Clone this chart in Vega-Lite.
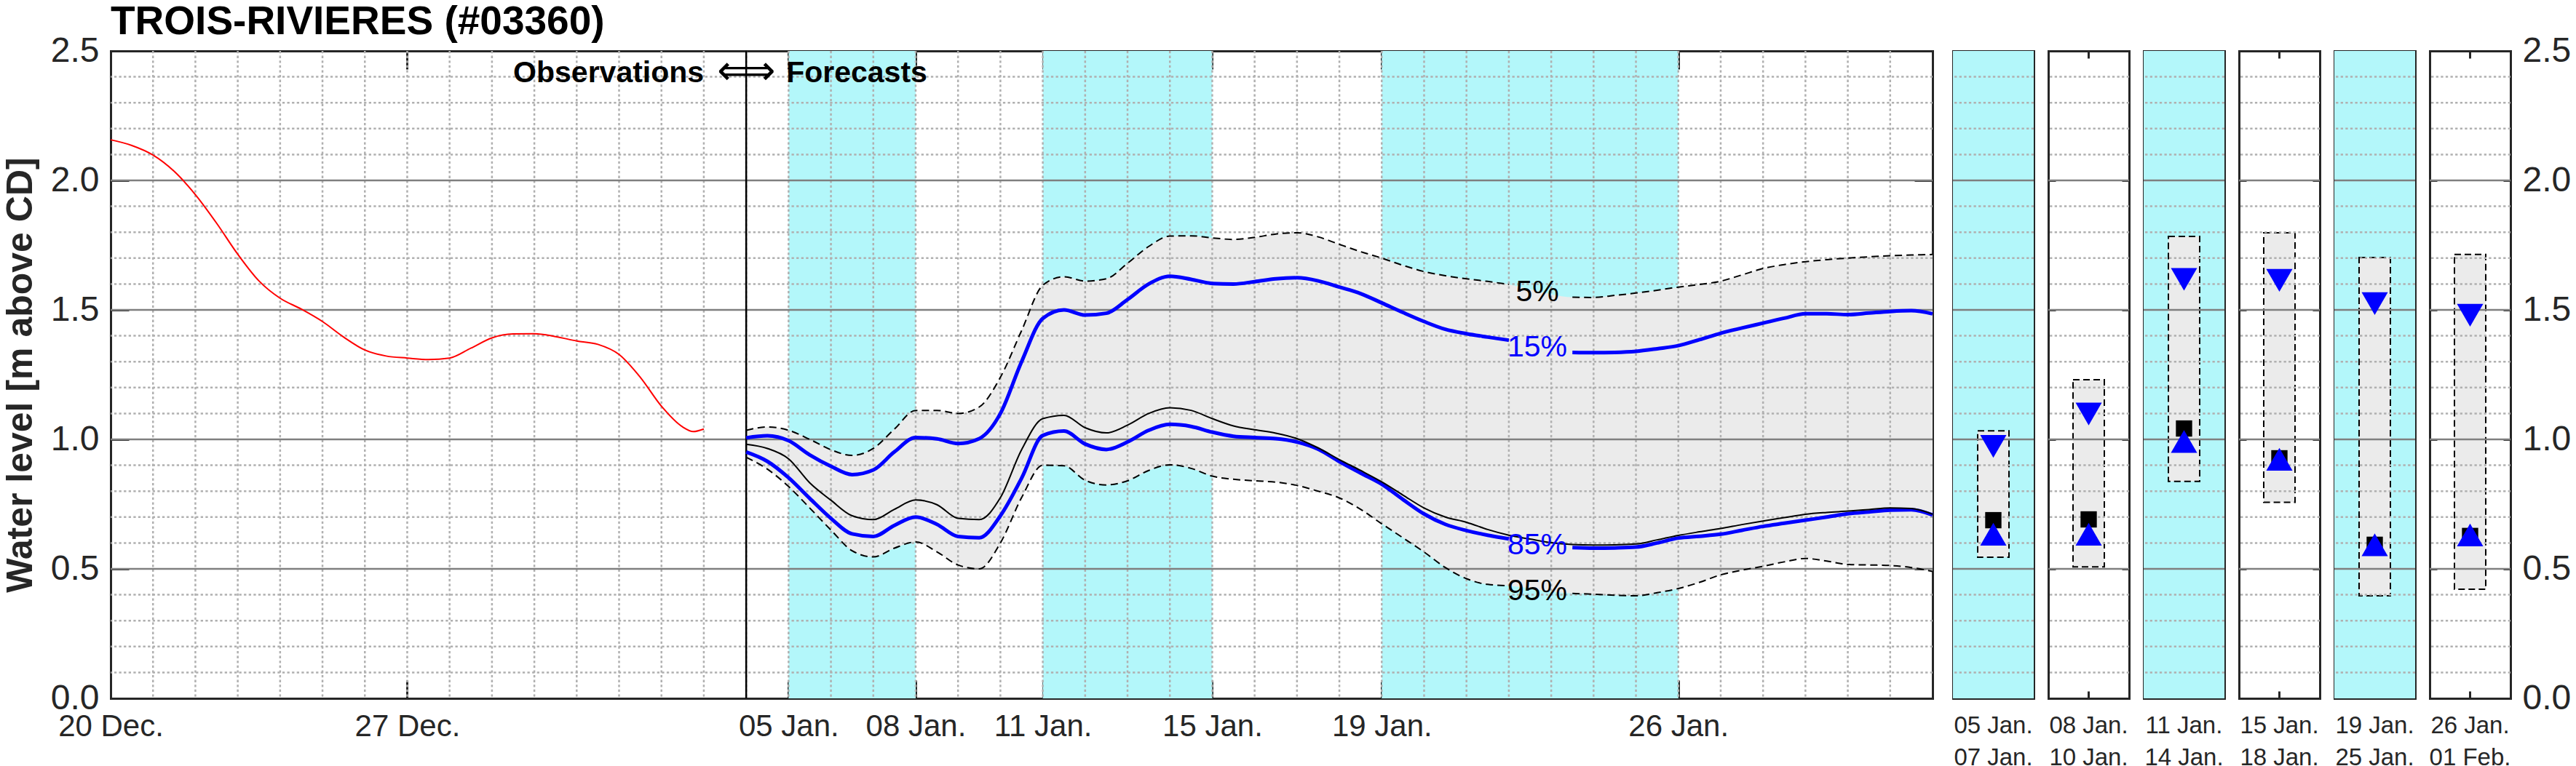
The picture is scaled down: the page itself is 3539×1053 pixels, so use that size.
{
  "$schema": "https://vega.github.io/schema/vega-lite/v6.json",
  "padding": {"left": 3, "top": 3, "right": 2, "bottom": 0},
  "background": "white",
  "title": {"text": "TROIS-RIVIERES (#03360)", "anchor": "start", "frame": "group", "fontSize": 55, "fontWeight": "bold", "color": "black", "offset": -56, "baseline": "alphabetic"},
  "datasets": {
    "obs": [
      {"t": "2023-12-20T00:00", "level": 2.157}, {"t": "2023-12-20T12:00", "level": 2.135},
      {"t": "2023-12-21T00:00", "level": 2.098}, {"t": "2023-12-21T12:00", "level": 2.035},
      {"t": "2023-12-22T00:00", "level": 1.945}, {"t": "2023-12-22T12:00", "level": 1.835},
      {"t": "2023-12-23T00:00", "level": 1.715}, {"t": "2023-12-23T12:00", "level": 1.612},
      {"t": "2023-12-24T00:00", "level": 1.545}, {"t": "2023-12-24T12:00", "level": 1.503},
      {"t": "2023-12-25T00:00", "level": 1.455}, {"t": "2023-12-25T12:00", "level": 1.395},
      {"t": "2023-12-26T00:00", "level": 1.345}, {"t": "2023-12-26T12:00", "level": 1.322},
      {"t": "2023-12-27T00:00", "level": 1.314}, {"t": "2023-12-27T12:00", "level": 1.308},
      {"t": "2023-12-28T00:00", "level": 1.314}, {"t": "2023-12-28T12:00", "level": 1.352},
      {"t": "2023-12-29T00:00", "level": 1.392}, {"t": "2023-12-29T12:00", "level": 1.407},
      {"t": "2023-12-30T00:00", "level": 1.408}, {"t": "2023-12-30T12:00", "level": 1.397},
      {"t": "2023-12-31T00:00", "level": 1.380}, {"t": "2023-12-31T12:00", "level": 1.367},
      {"t": "2024-01-01T00:00", "level": 1.328}, {"t": "2024-01-01T12:00", "level": 1.240},
      {"t": "2024-01-02T00:00", "level": 1.128}, {"t": "2024-01-02T12:00", "level": 1.048},
      {"t": "2024-01-02T18:00", "level": 1.030}, {"t": "2024-01-03T00:00", "level": 1.040}
    ],
    "fc": [
      {"t": "2024-01-04T00:00", "5%": 1.035, "15%": 1.006, "50%": 0.981, "85%": 0.951, "95%": 0.931},
      {"t": "2024-01-04T12:00", "5%": 1.048, "15%": 1.014, "50%": 0.965, "85%": 0.915, "95%": 0.885},
      {"t": "2024-01-05T00:00", "5%": 1.035, "15%": 0.995, "50%": 0.925, "85%": 0.852, "95%": 0.818},
      {"t": "2024-01-05T12:00", "5%": 1.000, "15%": 0.940, "50%": 0.832, "85%": 0.772, "95%": 0.735},
      {"t": "2024-01-06T00:00", "5%": 0.960, "15%": 0.896, "50%": 0.765, "85%": 0.695, "95%": 0.650},
      {"t": "2024-01-06T12:00", "5%": 0.938, "15%": 0.864, "50%": 0.705, "85%": 0.635, "95%": 0.570},
      {"t": "2024-01-07T00:00", "5%": 0.965, "15%": 0.882, "50%": 0.690, "85%": 0.625, "95%": 0.546},
      {"t": "2024-01-07T12:00", "5%": 1.040, "15%": 0.952, "50%": 0.730, "85%": 0.668, "95%": 0.580},
      {"t": "2024-01-08T00:00", "5%": 1.112, "15%": 1.007, "50%": 0.766, "85%": 0.700, "95%": 0.604},
      {"t": "2024-01-08T12:00", "5%": 1.112, "15%": 1.002, "50%": 0.748, "85%": 0.672, "95%": 0.566},
      {"t": "2024-01-09T00:00", "5%": 1.100, "15%": 0.984, "50%": 0.695, "85%": 0.625, "95%": 0.515},
      {"t": "2024-01-09T12:00", "5%": 1.125, "15%": 1.003, "50%": 0.690, "85%": 0.620, "95%": 0.500},
      {"t": "2024-01-10T00:00", "5%": 1.240, "15%": 1.100, "50%": 0.775, "85%": 0.705, "95%": 0.600},
      {"t": "2024-01-10T12:00", "5%": 1.420, "15%": 1.300, "50%": 0.960, "85%": 0.850, "95%": 0.775},
      {"t": "2024-01-11T00:00", "5%": 1.595, "15%": 1.467, "50%": 1.080, "85%": 1.015, "95%": 0.900},
      {"t": "2024-01-11T12:00", "5%": 1.628, "15%": 1.500, "50%": 1.093, "85%": 1.032, "95%": 0.898},
      {"t": "2024-01-12T00:00", "5%": 1.611, "15%": 1.480, "50%": 1.045, "85%": 0.982, "95%": 0.842},
      {"t": "2024-01-12T12:00", "5%": 1.620, "15%": 1.487, "50%": 1.025, "85%": 0.961, "95%": 0.824},
      {"t": "2024-01-13T00:00", "5%": 1.680, "15%": 1.540, "50%": 1.055, "85%": 0.990, "95%": 0.840},
      {"t": "2024-01-13T12:00", "5%": 1.745, "15%": 1.600, "50%": 1.100, "85%": 1.035, "95%": 0.880},
      {"t": "2024-01-14T00:00", "5%": 1.785, "15%": 1.630, "50%": 1.122, "85%": 1.058, "95%": 0.902},
      {"t": "2024-01-14T12:00", "5%": 1.786, "15%": 1.618, "50%": 1.112, "85%": 1.050, "95%": 0.888},
      {"t": "2024-01-15T00:00", "5%": 1.778, "15%": 1.602, "50%": 1.080, "85%": 1.028, "95%": 0.858},
      {"t": "2024-01-15T12:00", "5%": 1.772, "15%": 1.600, "50%": 1.052, "85%": 1.012, "95%": 0.846},
      {"t": "2024-01-16T00:00", "5%": 1.780, "15%": 1.609, "50%": 1.037, "85%": 1.007, "95%": 0.840},
      {"t": "2024-01-16T12:00", "5%": 1.793, "15%": 1.620, "50%": 1.024, "85%": 1.003, "95%": 0.835},
      {"t": "2024-01-17T00:00", "5%": 1.798, "15%": 1.624, "50%": 1.003, "85%": 0.990, "95%": 0.822},
      {"t": "2024-01-17T12:00", "5%": 1.782, "15%": 1.612, "50%": 0.967, "85%": 0.962, "95%": 0.800},
      {"t": "2024-01-18T00:00", "5%": 1.753, "15%": 1.588, "50%": 0.922, "85%": 0.914, "95%": 0.774},
      {"t": "2024-01-18T12:00", "5%": 1.725, "15%": 1.563, "50%": 0.880, "85%": 0.870, "95%": 0.730},
      {"t": "2024-01-19T00:00", "5%": 1.700, "15%": 1.527, "50%": 0.836, "85%": 0.827, "95%": 0.674},
      {"t": "2024-01-19T12:00", "5%": 1.672, "15%": 1.490, "50%": 0.785, "85%": 0.768, "95%": 0.620},
      {"t": "2024-01-20T00:00", "5%": 1.648, "15%": 1.455, "50%": 0.735, "85%": 0.712, "95%": 0.565},
      {"t": "2024-01-20T12:00", "5%": 1.632, "15%": 1.425, "50%": 0.700, "85%": 0.672, "95%": 0.505},
      {"t": "2024-01-21T00:00", "5%": 1.620, "15%": 1.408, "50%": 0.680, "85%": 0.648, "95%": 0.462},
      {"t": "2024-01-21T12:00", "5%": 1.610, "15%": 1.395, "50%": 0.652, "85%": 0.630, "95%": 0.440},
      {"t": "2024-01-22T00:00", "5%": 1.598, "15%": 1.383, "50%": 0.630, "85%": 0.616, "95%": 0.435},
      {"t": "2024-01-22T12:00", "5%": 1.580, "15%": 1.365, "50%": 0.615, "85%": 0.600, "95%": 0.425},
      {"t": "2024-01-23T00:00", "5%": 1.560, "15%": 1.345, "50%": 0.601, "85%": 0.588, "95%": 0.412},
      {"t": "2024-01-23T12:00", "5%": 1.549, "15%": 1.336, "50%": 0.594, "85%": 0.582, "95%": 0.405},
      {"t": "2024-01-24T00:00", "5%": 1.548, "15%": 1.335, "50%": 0.592, "85%": 0.580, "95%": 0.402},
      {"t": "2024-01-24T12:00", "5%": 1.556, "15%": 1.336, "50%": 0.593, "85%": 0.581, "95%": 0.398},
      {"t": "2024-01-25T00:00", "5%": 1.565, "15%": 1.340, "50%": 0.596, "85%": 0.584, "95%": 0.396},
      {"t": "2024-01-25T12:00", "5%": 1.576, "15%": 1.350, "50%": 0.612, "85%": 0.600, "95%": 0.408},
      {"t": "2024-01-26T00:00", "5%": 1.588, "15%": 1.362, "50%": 0.629, "85%": 0.619, "95%": 0.424},
      {"t": "2024-01-26T12:00", "5%": 1.598, "15%": 1.385, "50%": 0.643, "85%": 0.626, "95%": 0.448},
      {"t": "2024-01-27T00:00", "5%": 1.611, "15%": 1.410, "50%": 0.656, "85%": 0.634, "95%": 0.477},
      {"t": "2024-01-27T12:00", "5%": 1.635, "15%": 1.430, "50%": 0.671, "85%": 0.649, "95%": 0.495},
      {"t": "2024-01-28T00:00", "5%": 1.660, "15%": 1.449, "50%": 0.685, "85%": 0.664, "95%": 0.510},
      {"t": "2024-01-28T12:00", "5%": 1.675, "15%": 1.468, "50%": 0.698, "85%": 0.676, "95%": 0.527},
      {"t": "2024-01-29T00:00", "5%": 1.686, "15%": 1.485, "50%": 0.711, "85%": 0.688, "95%": 0.540},
      {"t": "2024-01-29T12:00", "5%": 1.694, "15%": 1.485, "50%": 0.718, "85%": 0.700, "95%": 0.530},
      {"t": "2024-01-30T00:00", "5%": 1.700, "15%": 1.482, "50%": 0.723, "85%": 0.713, "95%": 0.517},
      {"t": "2024-01-30T12:00", "5%": 1.705, "15%": 1.488, "50%": 0.729, "85%": 0.720, "95%": 0.515},
      {"t": "2024-01-31T00:00", "5%": 1.709, "15%": 1.494, "50%": 0.735, "85%": 0.727, "95%": 0.513},
      {"t": "2024-01-31T12:00", "5%": 1.712, "15%": 1.497, "50%": 0.733, "85%": 0.728, "95%": 0.505},
      {"t": "2024-02-01T00:00", "5%": 1.714, "15%": 1.485, "50%": 0.711, "85%": 0.708, "95%": 0.490}
    ],
    "periods": [
      {"period": "05 Jan. - 07 Jan.", "start": "2024-01-05T00:00", "end": "2024-01-08T00:00", "highlight": true, "5%": 1.033, "15%": 0.973, "50%": 0.688, "85%": 0.634, "95%": 0.545},
      {"period": "08 Jan. - 10 Jan.", "start": "2024-01-08T00:00", "end": "2024-01-11T00:00", "highlight": false, "5%": 1.230, "15%": 1.098, "50%": 0.691, "85%": 0.634, "95%": 0.508},
      {"period": "11 Jan. - 14 Jan.", "start": "2024-01-11T00:00", "end": "2024-01-15T00:00", "highlight": true, "5%": 1.784, "15%": 1.618, "50%": 1.042, "85%": 0.992, "95%": 0.838},
      {"period": "15 Jan. - 18 Jan.", "start": "2024-01-15T00:00", "end": "2024-01-19T00:00", "highlight": false, "5%": 1.798, "15%": 1.614, "50%": 0.927, "85%": 0.923, "95%": 0.757},
      {"period": "19 Jan. - 25 Jan.", "start": "2024-01-19T00:00", "end": "2024-01-26T00:00", "highlight": true, "5%": 1.702, "15%": 1.524, "50%": 0.593, "85%": 0.593, "95%": 0.396},
      {"period": "26 Jan. - 01 Feb.", "start": "2024-01-26T00:00", "end": "2024-02-01T00:00", "highlight": false, "5%": 1.714, "15%": 1.479, "50%": 0.627, "85%": 0.631, "95%": 0.421}
    ],
    "days": [
      {"t": "2023-12-21T00:00"}, {"t": "2023-12-22T00:00"}, {"t": "2023-12-23T00:00"}, {"t": "2023-12-24T00:00"},
      {"t": "2023-12-25T00:00"}, {"t": "2023-12-26T00:00"}, {"t": "2023-12-27T00:00"}, {"t": "2023-12-28T00:00"},
      {"t": "2023-12-29T00:00"}, {"t": "2023-12-30T00:00"}, {"t": "2023-12-31T00:00"}, {"t": "2024-01-01T00:00"},
      {"t": "2024-01-02T00:00"}, {"t": "2024-01-03T00:00"}, {"t": "2024-01-04T00:00"}, {"t": "2024-01-05T00:00"},
      {"t": "2024-01-06T00:00"}, {"t": "2024-01-07T00:00"}, {"t": "2024-01-08T00:00"}, {"t": "2024-01-09T00:00"},
      {"t": "2024-01-10T00:00"}, {"t": "2024-01-11T00:00"}, {"t": "2024-01-12T00:00"}, {"t": "2024-01-13T00:00"},
      {"t": "2024-01-14T00:00"}, {"t": "2024-01-15T00:00"}, {"t": "2024-01-16T00:00"}, {"t": "2024-01-17T00:00"},
      {"t": "2024-01-18T00:00"}, {"t": "2024-01-19T00:00"}, {"t": "2024-01-20T00:00"}, {"t": "2024-01-21T00:00"},
      {"t": "2024-01-22T00:00"}, {"t": "2024-01-23T00:00"}, {"t": "2024-01-24T00:00"}, {"t": "2024-01-25T00:00"},
      {"t": "2024-01-26T00:00"}, {"t": "2024-01-27T00:00"}, {"t": "2024-01-28T00:00"}, {"t": "2024-01-29T00:00"},
      {"t": "2024-01-30T00:00"}, {"t": "2024-01-31T00:00"}
    ],
    "grid": [
      {"v": 0.1, "kind": "minor"}, {"v": 0.2, "kind": "minor"}, {"v": 0.3, "kind": "minor"}, {"v": 0.4, "kind": "minor"},
      {"v": 0.5, "kind": "major"}, {"v": 0.6, "kind": "minor"}, {"v": 0.7, "kind": "minor"}, {"v": 0.8, "kind": "minor"},
      {"v": 0.9, "kind": "minor"}, {"v": 1.0, "kind": "major"}, {"v": 1.1, "kind": "minor"}, {"v": 1.2, "kind": "minor"},
      {"v": 1.3, "kind": "minor"}, {"v": 1.4, "kind": "minor"}, {"v": 1.5, "kind": "major"}, {"v": 1.6, "kind": "minor"},
      {"v": 1.7, "kind": "minor"}, {"v": 1.8, "kind": "minor"}, {"v": 1.9, "kind": "minor"}, {"v": 2.0, "kind": "major"},
      {"v": 2.1, "kind": "minor"}, {"v": 2.2, "kind": "minor"}, {"v": 2.3, "kind": "minor"}, {"v": 2.4, "kind": "minor"}
    ],
    "meta": [{"issued": "2024-01-04T00:00", "before": "Observations", "after": "Forecasts"}]
  },
  "spacing": 28,
  "bounds": "flush",
  "hconcat": [
    {
      "width": 2503,
      "height": 890,
      "layer": [
        {"data": {"name": "periods"}, "transform": [{"filter": "datum.highlight"}],
         "mark": {"type": "rect", "color": "#B3F7FA"},
         "encoding": {
           "x": {"field": "start", "type": "temporal",
                 "scale": {"domain": [{"year": 2023, "month": 12, "date": 20}, {"year": 2024, "month": 2, "date": 1}], "nice": false},
                 "axis": {"orient": "bottom", "title": null, "values": [{"year": 2023, "month": 12, "date": 20}, {"year": 2023, "month": 12, "date": 27}, {"year": 2024, "month": 1, "date": 5}, {"year": 2024, "month": 1, "date": 8}, {"year": 2024, "month": 1, "date": 11}, {"year": 2024, "month": 1, "date": 15}, {"year": 2024, "month": 1, "date": 19}, {"year": 2024, "month": 1, "date": 26}],
                          "labelExpr": "timeFormat(datum.value, '%d %b.')", "tickSize": -25, "labelFontSize": 42, "labelPadding": 43}},
           "x2": {"field": "end"}}},
        {"data": {"name": "fc"},
         "mark": {"type": "area", "color": "#EBEBEB", "opacity": 1, "interpolate": "monotone"},
         "encoding": {
           "x": {"field": "t", "type": "temporal", "axis": null},
           "y": {"field": "95%", "type": "quantitative", "scale": {"domain": [0, 2.5], "nice": false, "zero": false},
                 "axis": {"orient": "left", "values": [0, 0.5, 1, 1.5, 2, 2.5], "format": ".1f", "tickSize": -25, "labelFontSize": 48, "labelPadding": 41,
                          "title": "Water level [m above CD]", "titleFontSize": 50, "titleFontWeight": "bold", "titlePadding": 16}},
           "y2": {"field": "5%"}}},
        {"data": {"name": "days"},
         "mark": {"type": "rule", "color": "#b0b0b0", "strokeWidth": 2.5, "strokeDash": [3.3, 3.3]},
         "encoding": {"x": {"field": "t", "type": "temporal", "axis": null}}},
        {"data": {"name": "grid"}, "transform": [{"filter": "datum.kind === 'minor'"}],
         "mark": {"type": "rule", "color": "#b0b0b0", "strokeWidth": 2.5, "strokeDash": [3.3, 3.3]},
         "encoding": {"y": {"field": "v", "type": "quantitative", "axis": null}}},
        {"data": {"name": "grid"}, "transform": [{"filter": "datum.kind === 'major'"}],
         "mark": {"type": "rule", "color": "#7f7f7f", "strokeWidth": 2.5},
         "encoding": {"y": {"field": "v", "type": "quantitative",
                            "axis": {"orient": "right", "values": [0, 0.5, 1, 1.5, 2, 2.5], "labels": false, "tickSize": -25, "title": null}}}},
        {"data": {"name": "obs"},
         "mark": {"type": "line", "color": "#FF0000", "strokeWidth": 2, "interpolate": "monotone"},
         "encoding": {"x": {"field": "t", "type": "temporal", "axis": null}, "y": {"field": "level", "type": "quantitative", "axis": null}}},
        {"data": {"name": "meta"},
         "mark": {"type": "rule", "color": "black", "strokeWidth": 2.5},
         "encoding": {"x": {"field": "issued", "type": "temporal",
                            "axis": {"orient": "top", "title": null, "labels": false, "tickSize": -25, "values": [{"year": 2023, "month": 12, "date": 20}, {"year": 2023, "month": 12, "date": 27}, {"year": 2024, "month": 1, "date": 5}, {"year": 2024, "month": 1, "date": 8}, {"year": 2024, "month": 1, "date": 11}, {"year": 2024, "month": 1, "date": 15}, {"year": 2024, "month": 1, "date": 19}, {"year": 2024, "month": 1, "date": 26}]}}}},
        {"data": {"name": "fc"},
         "transform": [{"filter": {"field": "t", "lte": {"year": 2024, "month": 1, "date": 22}}}, {"fold": ["5%", "95%"], "as": ["pct", "level"]}],
         "mark": {"type": "line", "interpolate": "monotone", "color": "black", "strokeWidth": 2, "strokeDash": [10, 6]},
         "encoding": {"x": {"field": "t", "type": "temporal", "axis": null}, "y": {"field": "level", "type": "quantitative", "axis": null}, "detail": {"field": "pct"}}},
        {"data": {"name": "fc"},
         "transform": [{"filter": {"field": "t", "gte": {"year": 2024, "month": 1, "date": 23, "hours": 12}}}, {"fold": ["5%", "95%"], "as": ["pct", "level"]}],
         "mark": {"type": "line", "interpolate": "monotone", "color": "black", "strokeWidth": 2, "strokeDash": [10, 6]},
         "encoding": {"x": {"field": "t", "type": "temporal", "axis": null}, "y": {"field": "level", "type": "quantitative", "axis": null}, "detail": {"field": "pct"}}},
        {"data": {"name": "fc"},
         "transform": [{"filter": {"field": "t", "lte": {"year": 2024, "month": 1, "date": 22}}}, {"fold": ["15%", "85%"], "as": ["pct", "level"]}],
         "mark": {"type": "line", "interpolate": "monotone", "color": "#0000FF", "strokeWidth": 5},
         "encoding": {"x": {"field": "t", "type": "temporal", "axis": null}, "y": {"field": "level", "type": "quantitative", "axis": null}, "detail": {"field": "pct"}}},
        {"data": {"name": "fc"},
         "transform": [{"filter": {"field": "t", "gte": {"year": 2024, "month": 1, "date": 23, "hours": 12}}}, {"fold": ["15%", "85%"], "as": ["pct", "level"]}],
         "mark": {"type": "line", "interpolate": "monotone", "color": "#0000FF", "strokeWidth": 5},
         "encoding": {"x": {"field": "t", "type": "temporal", "axis": null}, "y": {"field": "level", "type": "quantitative", "axis": null}, "detail": {"field": "pct"}}},
        {"data": {"name": "fc"},
         "mark": {"type": "line", "color": "black", "strokeWidth": 2, "interpolate": "monotone"},
         "encoding": {"x": {"field": "t", "type": "temporal", "axis": null}, "y": {"field": "50%", "type": "quantitative", "axis": null}}},
        {"data": {"name": "fc"},
         "transform": [{"filter": {"field": "t", "equal": {"year": 2024, "month": 1, "date": 22, "hours": 12}}}, {"fold": ["5%", "15%", "85%", "95%"], "as": ["pct", "level"]}],
         "mark": {"type": "text", "fontSize": 41, "dx": 10, "dy": 4, "align": "center", "baseline": "middle"},
         "encoding": {
           "x": {"field": "t", "type": "temporal", "axis": null},
           "y": {"field": "level", "type": "quantitative", "axis": null},
           "text": {"field": "pct"},
           "color": {"field": "pct", "type": "nominal", "scale": {"domain": ["5%", "15%", "85%", "95%"], "range": ["black", "#0000FF", "#0000FF", "black"]}, "legend": null}}},
        {"data": {"name": "meta"},
         "mark": {"type": "text", "align": "right", "dx": -58, "fontSize": 41, "fontWeight": "bold", "baseline": "alphabetic", "color": "black"},
         "encoding": {"x": {"field": "issued", "type": "temporal", "axis": null}, "y": {"datum": 2.38, "axis": null}, "text": {"field": "before"}}},
        {"data": {"name": "meta"},
         "mark": {"type": "text", "align": "center", "fontSize": 56, "dy": 3, "baseline": "alphabetic", "color": "black", "font": "DejaVu Sans"},
         "encoding": {"x": {"field": "issued", "type": "temporal", "axis": null}, "y": {"datum": 2.38, "axis": null}, "text": {"value": "⟺"}}},
        {"data": {"name": "meta"},
         "mark": {"type": "text", "align": "left", "dx": 55, "fontSize": 41, "fontWeight": "bold", "baseline": "alphabetic", "color": "black"},
         "encoding": {"x": {"field": "issued", "type": "temporal", "axis": null}, "y": {"datum": 2.38, "axis": null}, "text": {"field": "after"}}}
      ],
      "resolve": {"axis": {"x": "independent", "y": "independent"}}
    },
    {
      "spacing": 20,
      "bounds": "flush",
      "hconcat": [
        {"width": 111, "height": 890, "layer": [
          {"data": {"name": "periods"}, "transform": [{"filter": {"field": "period", "equal": "05 Jan. - 07 Jan."}}, {"filter": "datum.highlight"}], "mark": {"type": "rect", "color": "#B3F7FA"},
           "encoding": {"x": {"field": "period", "type": "nominal", "scale": {"paddingInner": 0, "paddingOuter": 0}, "axis": {"orient": "bottom", "title": null, "labelAngle": 0, "labelAlign": "center", "labelBaseline": "top", "labelExpr": "split(datum.label, ' - ')", "labelFontSize": 33, "labelPadding": 31, "labelLineHeight": 44, "tickSize": -10}}}},
          {"data": {"name": "periods"}, "transform": [{"filter": {"field": "period", "equal": "05 Jan. - 07 Jan."}}], "mark": {"type": "bar", "width": 43, "fill": "#EBEBEB", "stroke": "black", "strokeWidth": 2, "strokeDash": [9, 5]},
           "encoding": {"x": {"field": "period", "type": "nominal", "axis": null}, "y": {"field": "95%", "type": "quantitative", "scale": {"domain": [0, 2.5], "nice": false, "zero": false}, "axis": {"orient": "left", "title": null, "labels": false, "values": [0, 0.5, 1, 1.5, 2, 2.5], "tickSize": -10}}, "y2": {"field": "5%"}}},
          {"data": {"name": "grid"}, "transform": [{"filter": "datum.kind === 'minor'"}], "mark": {"type": "rule", "color": "#b0b0b0", "strokeWidth": 2.5, "strokeDash": [3.3, 3.3]}, "encoding": {"y": {"field": "v", "type": "quantitative", "axis": null}}},
          {"data": {"name": "grid"}, "transform": [{"filter": "datum.kind === 'major'"}], "mark": {"type": "rule", "color": "#7f7f7f", "strokeWidth": 2.5}, "encoding": {"y": {"field": "v", "type": "quantitative", "axis": {"orient": "right", "title": null, "labels": false, "values": [0, 0.5, 1, 1.5, 2, 2.5], "tickSize": -10}}}},
          {"data": {"name": "periods"}, "transform": [{"filter": {"field": "period", "equal": "05 Jan. - 07 Jan."}}], "mark": {"type": "point", "shape": "square", "size": 500, "filled": true, "opacity": 1, "color": "black", "strokeWidth": 0},
           "encoding": {"x": {"field": "period", "type": "nominal", "axis": null}, "y": {"field": "50%", "type": "quantitative", "axis": null}}},
          {"data": {"name": "periods"}, "transform": [{"filter": {"field": "period", "equal": "05 Jan. - 07 Jan."}}, {"fold": ["15%", "85%"], "as": ["pct", "level"]}], "mark": {"type": "point", "filled": true, "opacity": 1, "color": "#0000FF", "size": 1300, "strokeWidth": 0},
           "encoding": {"x": {"field": "period", "type": "nominal", "axis": {"orient": "top", "title": null, "labels": false, "tickSize": -10}}, "y": {"field": "level", "type": "quantitative", "axis": null},
             "shape": {"field": "pct", "type": "nominal", "scale": {"domain": ["15%", "85%"], "range": ["triangle-down", "triangle-up"]}, "legend": null}}}
        ], "resolve": {"axis": {"x": "independent", "y": "independent"}}},
        {"width": 111, "height": 890, "layer": [
          {"data": {"name": "periods"}, "transform": [{"filter": {"field": "period", "equal": "08 Jan. - 10 Jan."}}, {"filter": "datum.highlight"}], "mark": {"type": "rect", "color": "#B3F7FA"},
           "encoding": {"x": {"field": "period", "type": "nominal", "scale": {"paddingInner": 0, "paddingOuter": 0}, "axis": {"orient": "bottom", "title": null, "labelAngle": 0, "labelAlign": "center", "labelBaseline": "top", "labelExpr": "split(datum.label, ' - ')", "labelFontSize": 33, "labelPadding": 31, "labelLineHeight": 44, "tickSize": -10}}}},
          {"data": {"name": "periods"}, "transform": [{"filter": {"field": "period", "equal": "08 Jan. - 10 Jan."}}], "mark": {"type": "bar", "width": 43, "fill": "#EBEBEB", "stroke": "black", "strokeWidth": 2, "strokeDash": [9, 5]},
           "encoding": {"x": {"field": "period", "type": "nominal", "axis": null}, "y": {"field": "95%", "type": "quantitative", "scale": {"domain": [0, 2.5], "nice": false, "zero": false}, "axis": {"orient": "left", "title": null, "labels": false, "values": [0, 0.5, 1, 1.5, 2, 2.5], "tickSize": -10}}, "y2": {"field": "5%"}}},
          {"data": {"name": "grid"}, "transform": [{"filter": "datum.kind === 'minor'"}], "mark": {"type": "rule", "color": "#b0b0b0", "strokeWidth": 2.5, "strokeDash": [3.3, 3.3]}, "encoding": {"y": {"field": "v", "type": "quantitative", "axis": null}}},
          {"data": {"name": "grid"}, "transform": [{"filter": "datum.kind === 'major'"}], "mark": {"type": "rule", "color": "#7f7f7f", "strokeWidth": 2.5}, "encoding": {"y": {"field": "v", "type": "quantitative", "axis": {"orient": "right", "title": null, "labels": false, "values": [0, 0.5, 1, 1.5, 2, 2.5], "tickSize": -10}}}},
          {"data": {"name": "periods"}, "transform": [{"filter": {"field": "period", "equal": "08 Jan. - 10 Jan."}}], "mark": {"type": "point", "shape": "square", "size": 500, "filled": true, "opacity": 1, "color": "black", "strokeWidth": 0},
           "encoding": {"x": {"field": "period", "type": "nominal", "axis": null}, "y": {"field": "50%", "type": "quantitative", "axis": null}}},
          {"data": {"name": "periods"}, "transform": [{"filter": {"field": "period", "equal": "08 Jan. - 10 Jan."}}, {"fold": ["15%", "85%"], "as": ["pct", "level"]}], "mark": {"type": "point", "filled": true, "opacity": 1, "color": "#0000FF", "size": 1300, "strokeWidth": 0},
           "encoding": {"x": {"field": "period", "type": "nominal", "axis": {"orient": "top", "title": null, "labels": false, "tickSize": -10}}, "y": {"field": "level", "type": "quantitative", "axis": null},
             "shape": {"field": "pct", "type": "nominal", "scale": {"domain": ["15%", "85%"], "range": ["triangle-down", "triangle-up"]}, "legend": null}}}
        ], "resolve": {"axis": {"x": "independent", "y": "independent"}}},
        {"width": 111, "height": 890, "layer": [
          {"data": {"name": "periods"}, "transform": [{"filter": {"field": "period", "equal": "11 Jan. - 14 Jan."}}, {"filter": "datum.highlight"}], "mark": {"type": "rect", "color": "#B3F7FA"},
           "encoding": {"x": {"field": "period", "type": "nominal", "scale": {"paddingInner": 0, "paddingOuter": 0}, "axis": {"orient": "bottom", "title": null, "labelAngle": 0, "labelAlign": "center", "labelBaseline": "top", "labelExpr": "split(datum.label, ' - ')", "labelFontSize": 33, "labelPadding": 31, "labelLineHeight": 44, "tickSize": -10}}}},
          {"data": {"name": "periods"}, "transform": [{"filter": {"field": "period", "equal": "11 Jan. - 14 Jan."}}], "mark": {"type": "bar", "width": 43, "fill": "#EBEBEB", "stroke": "black", "strokeWidth": 2, "strokeDash": [9, 5]},
           "encoding": {"x": {"field": "period", "type": "nominal", "axis": null}, "y": {"field": "95%", "type": "quantitative", "scale": {"domain": [0, 2.5], "nice": false, "zero": false}, "axis": {"orient": "left", "title": null, "labels": false, "values": [0, 0.5, 1, 1.5, 2, 2.5], "tickSize": -10}}, "y2": {"field": "5%"}}},
          {"data": {"name": "grid"}, "transform": [{"filter": "datum.kind === 'minor'"}], "mark": {"type": "rule", "color": "#b0b0b0", "strokeWidth": 2.5, "strokeDash": [3.3, 3.3]}, "encoding": {"y": {"field": "v", "type": "quantitative", "axis": null}}},
          {"data": {"name": "grid"}, "transform": [{"filter": "datum.kind === 'major'"}], "mark": {"type": "rule", "color": "#7f7f7f", "strokeWidth": 2.5}, "encoding": {"y": {"field": "v", "type": "quantitative", "axis": {"orient": "right", "title": null, "labels": false, "values": [0, 0.5, 1, 1.5, 2, 2.5], "tickSize": -10}}}},
          {"data": {"name": "periods"}, "transform": [{"filter": {"field": "period", "equal": "11 Jan. - 14 Jan."}}], "mark": {"type": "point", "shape": "square", "size": 500, "filled": true, "opacity": 1, "color": "black", "strokeWidth": 0},
           "encoding": {"x": {"field": "period", "type": "nominal", "axis": null}, "y": {"field": "50%", "type": "quantitative", "axis": null}}},
          {"data": {"name": "periods"}, "transform": [{"filter": {"field": "period", "equal": "11 Jan. - 14 Jan."}}, {"fold": ["15%", "85%"], "as": ["pct", "level"]}], "mark": {"type": "point", "filled": true, "opacity": 1, "color": "#0000FF", "size": 1300, "strokeWidth": 0},
           "encoding": {"x": {"field": "period", "type": "nominal", "axis": {"orient": "top", "title": null, "labels": false, "tickSize": -10}}, "y": {"field": "level", "type": "quantitative", "axis": null},
             "shape": {"field": "pct", "type": "nominal", "scale": {"domain": ["15%", "85%"], "range": ["triangle-down", "triangle-up"]}, "legend": null}}}
        ], "resolve": {"axis": {"x": "independent", "y": "independent"}}},
        {"width": 111, "height": 890, "layer": [
          {"data": {"name": "periods"}, "transform": [{"filter": {"field": "period", "equal": "15 Jan. - 18 Jan."}}, {"filter": "datum.highlight"}], "mark": {"type": "rect", "color": "#B3F7FA"},
           "encoding": {"x": {"field": "period", "type": "nominal", "scale": {"paddingInner": 0, "paddingOuter": 0}, "axis": {"orient": "bottom", "title": null, "labelAngle": 0, "labelAlign": "center", "labelBaseline": "top", "labelExpr": "split(datum.label, ' - ')", "labelFontSize": 33, "labelPadding": 31, "labelLineHeight": 44, "tickSize": -10}}}},
          {"data": {"name": "periods"}, "transform": [{"filter": {"field": "period", "equal": "15 Jan. - 18 Jan."}}], "mark": {"type": "bar", "width": 43, "fill": "#EBEBEB", "stroke": "black", "strokeWidth": 2, "strokeDash": [9, 5]},
           "encoding": {"x": {"field": "period", "type": "nominal", "axis": null}, "y": {"field": "95%", "type": "quantitative", "scale": {"domain": [0, 2.5], "nice": false, "zero": false}, "axis": {"orient": "left", "title": null, "labels": false, "values": [0, 0.5, 1, 1.5, 2, 2.5], "tickSize": -10}}, "y2": {"field": "5%"}}},
          {"data": {"name": "grid"}, "transform": [{"filter": "datum.kind === 'minor'"}], "mark": {"type": "rule", "color": "#b0b0b0", "strokeWidth": 2.5, "strokeDash": [3.3, 3.3]}, "encoding": {"y": {"field": "v", "type": "quantitative", "axis": null}}},
          {"data": {"name": "grid"}, "transform": [{"filter": "datum.kind === 'major'"}], "mark": {"type": "rule", "color": "#7f7f7f", "strokeWidth": 2.5}, "encoding": {"y": {"field": "v", "type": "quantitative", "axis": {"orient": "right", "title": null, "labels": false, "values": [0, 0.5, 1, 1.5, 2, 2.5], "tickSize": -10}}}},
          {"data": {"name": "periods"}, "transform": [{"filter": {"field": "period", "equal": "15 Jan. - 18 Jan."}}], "mark": {"type": "point", "shape": "square", "size": 500, "filled": true, "opacity": 1, "color": "black", "strokeWidth": 0},
           "encoding": {"x": {"field": "period", "type": "nominal", "axis": null}, "y": {"field": "50%", "type": "quantitative", "axis": null}}},
          {"data": {"name": "periods"}, "transform": [{"filter": {"field": "period", "equal": "15 Jan. - 18 Jan."}}, {"fold": ["15%", "85%"], "as": ["pct", "level"]}], "mark": {"type": "point", "filled": true, "opacity": 1, "color": "#0000FF", "size": 1300, "strokeWidth": 0},
           "encoding": {"x": {"field": "period", "type": "nominal", "axis": {"orient": "top", "title": null, "labels": false, "tickSize": -10}}, "y": {"field": "level", "type": "quantitative", "axis": null},
             "shape": {"field": "pct", "type": "nominal", "scale": {"domain": ["15%", "85%"], "range": ["triangle-down", "triangle-up"]}, "legend": null}}}
        ], "resolve": {"axis": {"x": "independent", "y": "independent"}}},
        {"width": 111, "height": 890, "layer": [
          {"data": {"name": "periods"}, "transform": [{"filter": {"field": "period", "equal": "19 Jan. - 25 Jan."}}, {"filter": "datum.highlight"}], "mark": {"type": "rect", "color": "#B3F7FA"},
           "encoding": {"x": {"field": "period", "type": "nominal", "scale": {"paddingInner": 0, "paddingOuter": 0}, "axis": {"orient": "bottom", "title": null, "labelAngle": 0, "labelAlign": "center", "labelBaseline": "top", "labelExpr": "split(datum.label, ' - ')", "labelFontSize": 33, "labelPadding": 31, "labelLineHeight": 44, "tickSize": -10}}}},
          {"data": {"name": "periods"}, "transform": [{"filter": {"field": "period", "equal": "19 Jan. - 25 Jan."}}], "mark": {"type": "bar", "width": 43, "fill": "#EBEBEB", "stroke": "black", "strokeWidth": 2, "strokeDash": [9, 5]},
           "encoding": {"x": {"field": "period", "type": "nominal", "axis": null}, "y": {"field": "95%", "type": "quantitative", "scale": {"domain": [0, 2.5], "nice": false, "zero": false}, "axis": {"orient": "left", "title": null, "labels": false, "values": [0, 0.5, 1, 1.5, 2, 2.5], "tickSize": -10}}, "y2": {"field": "5%"}}},
          {"data": {"name": "grid"}, "transform": [{"filter": "datum.kind === 'minor'"}], "mark": {"type": "rule", "color": "#b0b0b0", "strokeWidth": 2.5, "strokeDash": [3.3, 3.3]}, "encoding": {"y": {"field": "v", "type": "quantitative", "axis": null}}},
          {"data": {"name": "grid"}, "transform": [{"filter": "datum.kind === 'major'"}], "mark": {"type": "rule", "color": "#7f7f7f", "strokeWidth": 2.5}, "encoding": {"y": {"field": "v", "type": "quantitative", "axis": {"orient": "right", "title": null, "labels": false, "values": [0, 0.5, 1, 1.5, 2, 2.5], "tickSize": -10}}}},
          {"data": {"name": "periods"}, "transform": [{"filter": {"field": "period", "equal": "19 Jan. - 25 Jan."}}], "mark": {"type": "point", "shape": "square", "size": 500, "filled": true, "opacity": 1, "color": "black", "strokeWidth": 0},
           "encoding": {"x": {"field": "period", "type": "nominal", "axis": null}, "y": {"field": "50%", "type": "quantitative", "axis": null}}},
          {"data": {"name": "periods"}, "transform": [{"filter": {"field": "period", "equal": "19 Jan. - 25 Jan."}}, {"fold": ["15%", "85%"], "as": ["pct", "level"]}], "mark": {"type": "point", "filled": true, "opacity": 1, "color": "#0000FF", "size": 1300, "strokeWidth": 0},
           "encoding": {"x": {"field": "period", "type": "nominal", "axis": {"orient": "top", "title": null, "labels": false, "tickSize": -10}}, "y": {"field": "level", "type": "quantitative", "axis": null},
             "shape": {"field": "pct", "type": "nominal", "scale": {"domain": ["15%", "85%"], "range": ["triangle-down", "triangle-up"]}, "legend": null}}}
        ], "resolve": {"axis": {"x": "independent", "y": "independent"}}},
        {"width": 111, "height": 890, "layer": [
          {"data": {"name": "periods"}, "transform": [{"filter": {"field": "period", "equal": "26 Jan. - 01 Feb."}}, {"filter": "datum.highlight"}], "mark": {"type": "rect", "color": "#B3F7FA"},
           "encoding": {"x": {"field": "period", "type": "nominal", "scale": {"paddingInner": 0, "paddingOuter": 0}, "axis": {"orient": "bottom", "title": null, "labelAngle": 0, "labelAlign": "center", "labelBaseline": "top", "labelExpr": "split(datum.label, ' - ')", "labelFontSize": 33, "labelPadding": 31, "labelLineHeight": 44, "tickSize": -10}}}},
          {"data": {"name": "periods"}, "transform": [{"filter": {"field": "period", "equal": "26 Jan. - 01 Feb."}}], "mark": {"type": "bar", "width": 43, "fill": "#EBEBEB", "stroke": "black", "strokeWidth": 2, "strokeDash": [9, 5]},
           "encoding": {"x": {"field": "period", "type": "nominal", "axis": null}, "y": {"field": "95%", "type": "quantitative", "scale": {"domain": [0, 2.5], "nice": false, "zero": false}, "axis": {"orient": "left", "title": null, "labels": false, "values": [0, 0.5, 1, 1.5, 2, 2.5], "tickSize": -10}}, "y2": {"field": "5%"}}},
          {"data": {"name": "grid"}, "transform": [{"filter": "datum.kind === 'minor'"}], "mark": {"type": "rule", "color": "#b0b0b0", "strokeWidth": 2.5, "strokeDash": [3.3, 3.3]}, "encoding": {"y": {"field": "v", "type": "quantitative", "axis": null}}},
          {"data": {"name": "grid"}, "transform": [{"filter": "datum.kind === 'major'"}], "mark": {"type": "rule", "color": "#7f7f7f", "strokeWidth": 2.5}, "encoding": {"y": {"field": "v", "type": "quantitative", "axis": {"orient": "right", "title": null, "labels": true, "format": ".1f", "labelFontSize": 48, "labelPadding": 26, "values": [0, 0.5, 1, 1.5, 2, 2.5], "tickSize": -10}}}},
          {"data": {"name": "periods"}, "transform": [{"filter": {"field": "period", "equal": "26 Jan. - 01 Feb."}}], "mark": {"type": "point", "shape": "square", "size": 500, "filled": true, "opacity": 1, "color": "black", "strokeWidth": 0},
           "encoding": {"x": {"field": "period", "type": "nominal", "axis": null}, "y": {"field": "50%", "type": "quantitative", "axis": null}}},
          {"data": {"name": "periods"}, "transform": [{"filter": {"field": "period", "equal": "26 Jan. - 01 Feb."}}, {"fold": ["15%", "85%"], "as": ["pct", "level"]}], "mark": {"type": "point", "filled": true, "opacity": 1, "color": "#0000FF", "size": 1300, "strokeWidth": 0},
           "encoding": {"x": {"field": "period", "type": "nominal", "axis": {"orient": "top", "title": null, "labels": false, "tickSize": -10}}, "y": {"field": "level", "type": "quantitative", "axis": null},
             "shape": {"field": "pct", "type": "nominal", "scale": {"domain": ["15%", "85%"], "range": ["triangle-down", "triangle-up"]}, "legend": null}}}
        ], "resolve": {"axis": {"x": "independent", "y": "independent"}}}
      ]
    }
  ],
  "config": {
    "font": "Liberation Sans",
    "view": {"stroke": null},
    "legend": {"disable": true},
    "axis": {"domain": true, "domainColor": "#262626", "domainWidth": 3, "domainCap": "square", "tickColor": "#262626", "tickWidth": 3, "grid": false,
             "labelFont": "Liberation Sans", "labelColor": "#262626", "labelFlush": false, "labelOverlap": false, "labelBound": false,
             "titleFont": "Liberation Sans", "titleColor": "#262626", "zindex": 1}
  }
}
